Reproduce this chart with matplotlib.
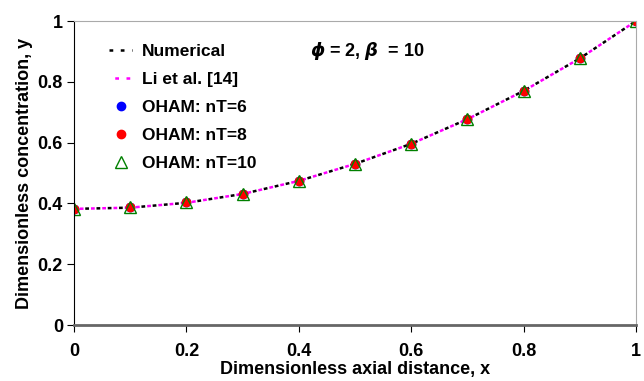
import numpy as np
import matplotlib
matplotlib.use('Agg')
import matplotlib.pyplot as plt

plt.rcParams['font.family'] = ['Liberation Sans', 'DejaVu Sans']
plt.rcParams['font.weight'] = 'bold'

x = [0.0, 0.1, 0.2, 0.3, 0.4, 0.5, 0.6, 0.7, 0.8, 0.9, 1.0]
y_num = [0.382, 0.386, 0.402, 0.431, 0.474, 0.530, 0.596, 0.677, 0.770, 0.877, 1.0]
y_li = [0.382, 0.386, 0.402, 0.431, 0.474, 0.530, 0.596, 0.677, 0.770, 0.877, 1.0]
y_nt6 = [0.382, 0.387, 0.403, 0.432, 0.475, 0.531, 0.597, 0.677, 0.770, 0.877, 1.0]
y_nt8 = [0.382, 0.387, 0.403, 0.432, 0.475, 0.531, 0.597, 0.677, 0.770, 0.877, 1.0]
y_nt10 = [0.382, 0.387, 0.403, 0.432, 0.475, 0.531, 0.597, 0.677, 0.770, 0.877, 1.0]


def main():
    fig = plt.figure(figsize=(6.44, 3.81), dpi=100)
    ax = fig.add_axes([74/644, 56/381, 562/644, 304/381])
    ax.plot(x, y_num, color='black', ls=(0, (1.5, 3)), lw=1.8, label='Numerical')
    ax.plot(x, y_li, color='magenta', ls=(2.2, (1.5, 3)), lw=1.8, label='Li et al. [14]')
    ax.plot(x, y_nt6, 'o', color='blue', ms=6, ls='none', label='OHAM: nT=6')
    ax.plot(x, y_nt8, 'o', color='red', ms=6, ls='none', label='OHAM: nT=8')
    ax.plot(x, y_nt10, '^', mfc='none', mec='green', ms=8, ls='none', label='OHAM: nT=10')
    ax.set_xlim(0, 1)
    ax.set_ylim(0, 1)
    ax.set_xticks([0, 0.2, 0.4, 0.6, 0.8, 1.0])
    ax.set_xticklabels(['0', '0.2', '0.4', '0.6', '0.8', '1'])
    ax.set_yticks([0, 0.2, 0.4, 0.6, 0.8, 1.0])
    ax.set_yticklabels(['0', '0.2', '0.4', '0.6', '0.8', '1'])
    ax.tick_params(labelsize=13, length=5, pad=8)
    ax.tick_params(axis='y', pad=3)
    for s in ['top', 'right']:
        ax.spines[s].set_color('#aaaaaa')
    ax.spines['bottom'].set_color('#666666')
    ax.spines['bottom'].set_linewidth(2)
    ax.spines['left'].set_color('black')
    ax.set_xlabel('Dimensionless axial distance, x', fontsize=13, fontweight='bold', labelpad=1)
    ax.set_ylabel('Dimensionless concentration, y', fontsize=13, fontweight='bold', labelpad=3)
    ax.text(0.42, 0.885, r'$\phi$ = 2, $\beta$  = 10',
            transform=ax.transAxes, fontsize=13, fontweight='bold')
    ax.legend(loc='upper left', frameon=False, fontsize=12.5, handlelength=1.3,
              bbox_to_anchor=(0.035, 0.977), labelspacing=0.75, handletextpad=0.6)
    fig.savefig('out.png', dpi=100)


if __name__ == '__main__':
    main()
